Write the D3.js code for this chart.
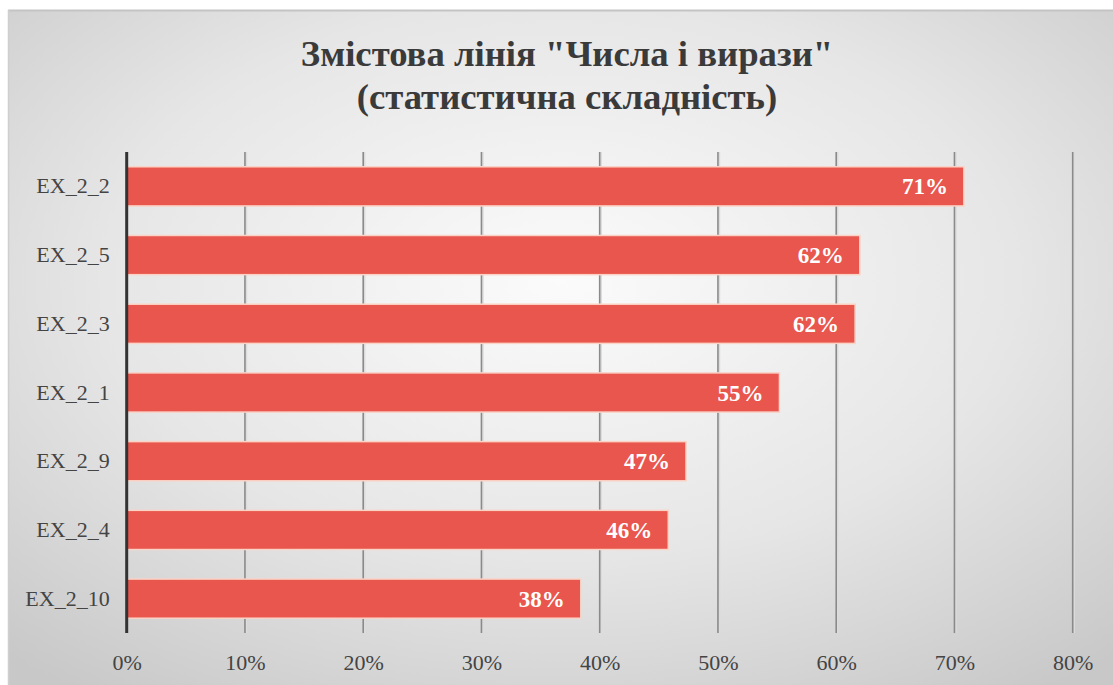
<!DOCTYPE html>
<html><head><meta charset="utf-8">
<script src="https://cdn.jsdelivr.net/npm/d3@7"></script>
<style>html,body{margin:0;padding:0;background:#fff;overflow:hidden}</style>
</head><body>
<svg id="c" width="1113" height="685"></svg>
<script>
const categories = ["EX_2_2","EX_2_5","EX_2_3","EX_2_1","EX_2_9","EX_2_4","EX_2_10"];
const values = [0.708, 0.620, 0.616, 0.552, 0.473, 0.458, 0.384];
const labels = ["71%","62%","62%","55%","47%","46%","38%"];
const xTicks = [0,0.1,0.2,0.3,0.4,0.5,0.6,0.7,0.8];
const titleLines = ['Змістова лінія "Числа і вирази"', '(статистична складність)'];

const SERIF = "Liberation Serif, Times New Roman, serif";
const svg = d3.select("#c");
const W = 1113, H = 685;
const defs = svg.append("defs");
const rg = defs.append("radialGradient").attr("id","bg").attr("cx","50%").attr("cy","40%").attr("r","75%");
rg.append("stop").attr("offset","0%").attr("stop-color","#fbfbfb");
rg.append("stop").attr("offset","55%").attr("stop-color","#e6e6e6");
rg.append("stop").attr("offset","100%").attr("stop-color","#c8c8c8");
svg.append("rect").attr("x",8).attr("y",10).attr("width",W-8).attr("height",H-10).attr("fill","url(#bg)");
svg.append("line").attr("x1",8).attr("x2",W).attr("y1",10.5).attr("y2",10.5).attr("stroke","#c4c4c4").attr("stroke-width",2);
svg.append("line").attr("x1",8.5).attr("x2",8.5).attr("y1",10).attr("y2",H).attr("stroke","#cfcfcf").attr("stroke-width",1.5);

const x = d3.scaleLinear().domain([0,0.8]).range([126.7, 1072.7]);
const y = d3.scaleBand().domain(categories).range([152,633]).paddingInner(0.43).paddingOuter(0.215);

// title
const t = svg.append("text").attr("text-anchor","middle").attr("fill","#3a3a3a")
  .attr("font-family",SERIF).attr("font-weight","bold").attr("font-size",36.7);
t.selectAll("tspan").data(titleLines).join("tspan").attr("x",567).attr("y",(d,i)=>66+i*43).text(d=>d);

// gridlines
const grid = svg.append("g");
grid.selectAll("line.sh").data(xTicks.slice(1)).join("line")
  .attr("x1",d=>x(d)+1.5).attr("x2",d=>x(d)+1.5).attr("y1",152).attr("y2",633)
  .attr("stroke","#dcdcdc").attr("stroke-width",1.5);
grid.selectAll("line.g").data(xTicks.slice(1)).join("line")
  .attr("x1",d=>x(d)).attr("x2",d=>x(d)).attr("y1",152).attr("y2",633)
  .attr("stroke","#8a8a8a").attr("stroke-width",1.6);

// bars
svg.append("g").selectAll("rect").data(categories).join("rect")
  .attr("x",x(0)).attr("y",d=>y(d)).attr("height",y.bandwidth())
  .attr("width",(d,i)=>x(values[i])-x(0))
  .attr("fill","#e8564d").attr("stroke","#fbd3c6").attr("stroke-width",1.5);

// data labels
svg.append("g").selectAll("text").data(categories).join("text")
  .attr("x",(d,i)=>x(values[i])-16).attr("y",d=>y(d)+y.bandwidth()/2).attr("dy","0.35em")
  .attr("text-anchor","end").attr("fill","#fff")
  .attr("font-family",SERIF).attr("font-weight","bold").attr("font-size",23)
  .text((d,i)=>labels[i]);

// y axis
const ya = svg.append("g").attr("transform",`translate(${x(0)},0)`)
  .call(d3.axisLeft(y).tickSize(0).tickPadding(17));
ya.attr("font-family",SERIF).attr("font-size",22);
ya.select(".domain").remove();
ya.selectAll("text").attr("font-family",SERIF).attr("font-size",22).attr("fill","#444");
svg.append("line").attr("x1",x(0)).attr("x2",x(0)).attr("y1",152).attr("y2",633).attr("stroke","#333").attr("stroke-width",3);

// x axis
const xa = svg.append("g").attr("transform","translate(0,633)")
  .call(d3.axisBottom(x).tickValues(xTicks).tickFormat(d3.format(".0%")).tickSize(0).tickPadding(21));
xa.attr("font-family",SERIF).attr("font-size",22);
xa.select(".domain").remove();
xa.selectAll("text").attr("font-family",SERIF).attr("font-size",22).attr("fill","#444");
</script>
</body></html>
